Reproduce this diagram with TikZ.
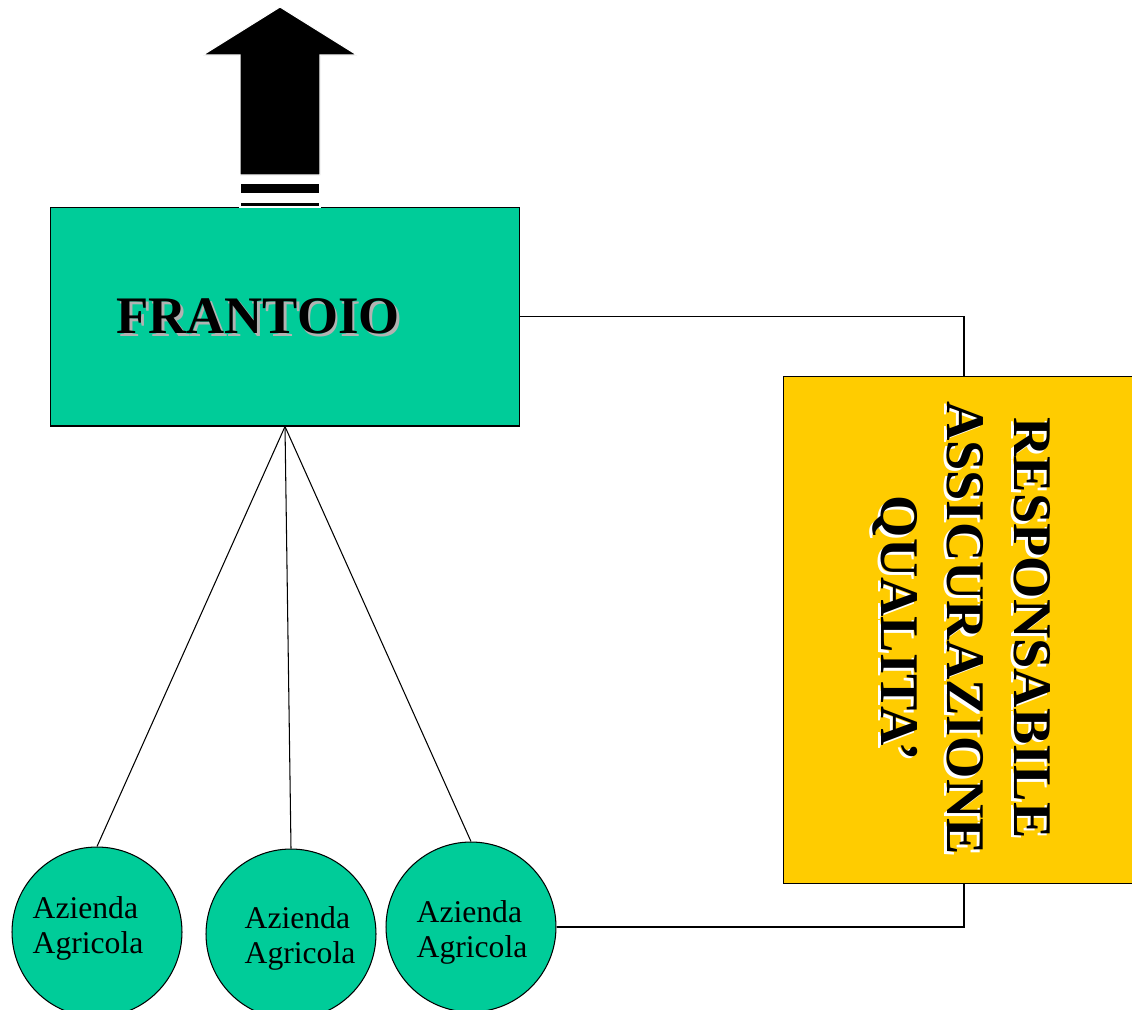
\documentclass[tikz,border=0pt]{standalone}
\usepackage{fontspec}
\setmainfont{Liberation Serif}
\definecolor{oliva}{RGB}{0,204,153}
\definecolor{giallo}{RGB}{255,204,0}
\newcommand{\ombra}[2]{\rlap{\hspace{1.6pt}\raisebox{-1.6pt}{\color{#1}#2}}#2}
\begin{document}
\begin{tikzpicture}[x=0.02cm,y=-0.02cm,
    box/.style={draw, line width=0.6pt, inner sep=0pt},
    azienda/.style={circle, draw, line width=0.6pt, fill=oliva, minimum size=3.4cm, inner sep=0pt},
    testo/.style={align=left, font=\fontsize{18}{20}\selectfont},
    titolo/.style={font=\fontsize{30}{38}\selectfont\bfseries}]
  \useasboundingbox (0,0) rectangle (1132,1009);
  \node[box, fill=oliva, minimum width=9.4cm, minimum height=4.38cm] (frantoio) at (285,316.5) {};
  \node[titolo] at (258,318) {\ombra{black!30}{FRANTOIO}};
  \node[box, fill=giallo, minimum width=7.24cm, minimum height=10.16cm] (qa) at (964,630) {};
  \node[titolo, font=\fontsize{31}{38}\selectfont\bfseries, align=center, rotate=-90] at (960,628)
    {\ombra{white}{RESPONSABILE}\\\ombra{white}{ASSICURAZIONE}\\\ombra{white}{QUALITA'}};
  \node[azienda] (az1) at (97,932) {};
  \node[azienda] (az2) at (291,934) {};
  \node[azienda] (az3) at (471,927) {};
  \node[testo] at (88,928) {Azienda\\Agricola};
  \node[testo] at (300,938) {Azienda\\Agricola};
  \node[testo] at (472,932) {Azienda\\Agricola};
  % collegamenti
  \draw[line width=0.6pt] (frantoio.south) -- (az1.north);
  \draw[line width=0.6pt] (frantoio.south) -- (az2.north);
  \draw[line width=0.6pt] (frantoio.south) -- (az3.north);
  \draw[line width=0.6pt] (frantoio.east) -| (qa.north);
  \draw[line width=0.6pt] (az3.east) -| (qa.south);
  % freccia
  \filldraw[fill=black, draw=white, line width=0.6pt] (240,175) -- (240,55) -- (203,55) -- (280,7) -- (357,55) -- (320,55) -- (320,175) -- cycle;
  \filldraw[fill=black, draw=white, line width=0.6pt] (240,183) rectangle (320,194);
  \filldraw[fill=black, draw=white, line width=0.6pt] (240,202) rectangle (320,207);
\end{tikzpicture}
\end{document}
